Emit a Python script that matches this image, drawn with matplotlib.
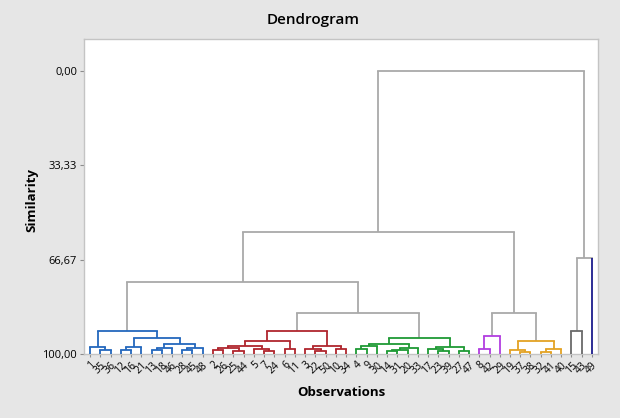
import matplotlib
matplotlib.use("Agg")
import matplotlib.pyplot as plt

# leaf order along the x axis
leaf_order = [1, 35, 36, 12, 16, 21, 13, 18, 46, 28, 45, 48,
              2, 26, 25, 44, 5, 7, 24, 6, 11, 3, 22, 50, 10, 34,
              4, 9, 30, 14, 31, 20, 33, 17, 23, 39, 27, 47,
              8, 42, 29,
              19, 37, 38, 32, 41, 40,
              15, 43,
              49]

# merges: (name, left child, right child, similarity)
merges = [
    ("b1", 35, 36, 98.6), ("b2", 1, "b1", 97.5),
    ("b3", 12, 16, 98.6), ("b4", "b3", 21, 97.5),
    ("b5", 13, 18, 98.6), ("b6", "b5", 46, 97.9),
    ("b7", 28, 45, 98.6), ("b8", "b7", 48, 97.9),
    ("b9", "b6", "b8", 96.3), ("b10", "b4", "b9", 94.3),
    ("b11", "b2", "b10", 91.9),
    ("r1", 2, 26, 98.6), ("r2", 25, 44, 99.0), ("r3", "r1", "r2", 97.9),
    ("r4", 7, 24, 99.0), ("r5", 5, "r4", 98.2), ("r6", "r3", "r5", 97.2),
    ("r7", 6, 11, 98.2), ("r8", "r6", "r7", 95.4),
    ("r9", 22, 50, 99.0), ("r10", 3, "r9", 98.2), ("r11", 10, 34, 98.2),
    ("r12", "r10", "r11", 97.2), ("r13", "r8", "r12", 92.0),
    ("g1", 4, 9, 98.2), ("g2", "g1", 30, 97.2),
    ("g3", 14, 31, 99.0), ("g4", "g3", 20, 98.6), ("g5", "g4", 33, 97.9),
    ("g6", "g2", "g5", 96.5),
    ("g7", 23, 39, 99.0), ("g8", 17, "g7", 98.2), ("g9", 27, 47, 98.9),
    ("g10", "g8", "g9", 97.5), ("g11", "g6", "g10", 94.3),
    ("p1", 8, 42, 98.2), ("p2", "p1", 29, 93.6),
    ("o1", 37, 38, 99.3), ("o2", 19, "o1", 98.6),
    ("o3", 32, 41, 99.3), ("o4", "o3", 40, 98.2), ("o5", "o2", "o4", 95.4),
    ("k1", 15, 43, 91.9),
    ("u1", "r13", "g11", 85.5), ("u2", "b11", "u1", 74.6),
    ("u3", "p2", "o5", 85.5), ("u4", "u2", "u3", 56.9),
    ("u5", "k1", 49, 66.1), ("u6", "u4", "u5", 0.0),
]

clusters = [
    [1, 35, 36, 12, 16, 21, 13, 18, 46, 28, 45, 48],
    [2, 26, 25, 44, 5, 7, 24, 6, 11, 3, 22, 50, 10, 34],
    [4, 9, 30, 14, 31, 20, 33, 17, 23, 39, 27, 47],
    [8, 42, 29],
    [19, 37, 38, 32, 41, 40],
    [15, 43],
    [49],
]
cluster_colors = ["#2468bd", "#b0262e", "#1f9a35", "#b23ee0",
                  "#e3a224", "#6a6a6a", "#1c1c8c"]
link_gray = "#a9a9a9"

ytick_vals = [0, 33.33, 66.67, 100]
ytick_labels = ["0,00", "33,33", "66,67", "100,00"]

plt.rcParams["font.family"] = ["Open Sans", "DejaVu Sans"]

fig = plt.figure(figsize=(6.2, 4.18), dpi=100)
fig.patch.set_facecolor("#e6e6e6")
ax = fig.add_axes([84 / 620, 1 - 354 / 418, 514 / 620, 315 / 418])
ax.set_facecolor("white")

xpos = {leaf: i for i, leaf in enumerate(leaf_order)}
height = {leaf: 100.0 for leaf in leaf_order}
members = {leaf: {leaf} for leaf in leaf_order}
leaf_cluster = {}
for ci, grp in enumerate(clusters):
    for leaf in grp:
        leaf_cluster[leaf] = ci


def color_of(leaves):
    cs = {leaf_cluster[l] for l in leaves}
    if len(cs) == 1 and len(leaves) > 1:
        return cluster_colors[cs.pop()]
    return link_gray


lw = 1.3
for name, a, b, sim in merges:
    members[name] = members[a] | members[b]
    xpos[name] = (xpos[a] + xpos[b]) / 2
    height[name] = sim
    col = color_of(members[name])
    for child in (a, b):
        ccol = col
        if isinstance(child, int) and len(clusters[leaf_cluster[child]]) == 1:
            ccol = cluster_colors[leaf_cluster[child]]
        ax.plot([xpos[child], xpos[child]], [height[child], sim],
                color=ccol, lw=lw, solid_capstyle="butt", zorder=2 if ccol == link_gray else 3)
    ax.plot([xpos[a], xpos[b]], [sim, sim], color=col, lw=lw,
            solid_capstyle="projecting", zorder=2 if col == link_gray else 3)

ax.set_xlim(-0.59, len(leaf_order) - 1 + 0.59)
ax.set_ylim(100, -11.3)
ax.set_yticks(ytick_vals)
ax.set_yticklabels(ytick_labels, fontsize=8)
ax.set_xticks(range(len(leaf_order)))
ax.set_xticklabels([str(l) for l in leaf_order], fontsize=7.5, rotation=45,
                   ha="right", rotation_mode="anchor")
ax.tick_params(axis="y", length=3, color="#8c8c8c", pad=2)
ax.tick_params(axis="x", length=2, color="#8c8c8c", pad=2)

for sp in ax.spines.values():
    sp.set_color("#c4c4c4")
    sp.set_linewidth(1.0)

fig.text(0.505, 1 - 20 / 418, "Dendrogram", ha="center", va="center",
         fontsize=11, fontweight="semibold")
fig.text(32 / 620, 1 - 200 / 418, "Similarity", ha="center", va="center",
         rotation=90, fontsize=9.5, fontweight="bold")
fig.text(341 / 620, 1 - 392 / 418, "Observations", ha="center", va="center",
         fontsize=9.5, fontweight="bold")

fig.savefig("out.png", dpi=100, facecolor=fig.get_facecolor())
